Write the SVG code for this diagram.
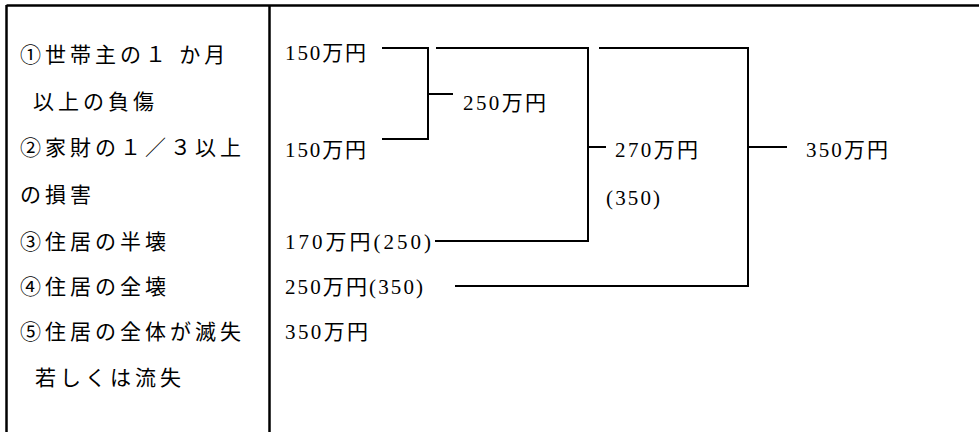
<svg xmlns="http://www.w3.org/2000/svg" width="979" height="432" viewBox="0 0 979 432">
<style>
text{font-family:"Liberation Serif","Noto Sans CJK JP",serif;font-size:21px;fill:#000}
.l{letter-spacing:4px}
.r{letter-spacing:2px}
.b{stroke:#000;stroke-width:2.5;fill:none}
.c{stroke:#000;stroke-width:2;fill:none}
</style>
<rect width="979" height="432" fill="#fff"/>
<g id="table">
<line class="b" x1="6.5" y1="5.5" x2="979" y2="5.5"/>
<line class="b" x1="6.5" y1="5" x2="6.5" y2="432"/>
<line class="b" x1="269.5" y1="5" x2="269.5" y2="432"/>
</g>
<g id="left-col">
<text class="l" x="20" y="62">①世帯主の１ か月</text>
<text class="l" x="33" y="109">以上の負傷</text>
<text class="l" x="20" y="155">②家財の１／３以上</text>
<text class="l" x="20" y="202">の損害</text>
<text class="l" x="20" y="249">③住居の半壊</text>
<text class="l" x="20" y="294">④住居の全壊</text>
<text class="l" x="20" y="339">⑤住居の全体が滅失</text>
<text class="l" x="35" y="385">若しくは流失</text>
</g>
<g id="n150a"><text class="r" x="285" y="60" textLength="83">150万円</text></g>
<g id="n150b"><text class="r" x="285" y="157" textLength="83">150万円</text></g>
<g id="n250"><text class="r" x="463" y="110" textLength="85">250万円</text></g>
<g id="n170"><text class="r" x="285" y="249" textLength="148">170万円(250)</text></g>
<g id="n250b"><text class="r" x="285" y="294" textLength="140">250万円(350)</text></g>
<g id="n350a"><text class="r" x="285" y="339" textLength="85">350万円</text></g>
<g id="n270"><text class="r" x="615" y="157" textLength="85">270万円</text><text class="r" x="606" y="205" textLength="56">(350)</text></g>
<g id="n350"><text class="r" x="806" y="157" textLength="84">350万円</text></g>
<g id="connectors">
<polyline class="c" points="382,48 428,48 428,139 382,139"/>
<line class="c" x1="428" y1="94" x2="453" y2="94"/>
<polyline class="c" points="436,48 588,48 588,241 435,241"/>
<line class="c" x1="588" y1="147" x2="606" y2="147"/>
<polyline class="c" points="599,48 748,48 748,286 455,286"/>
<line class="c" x1="748" y1="147" x2="787" y2="147"/>
</g>
</svg>
